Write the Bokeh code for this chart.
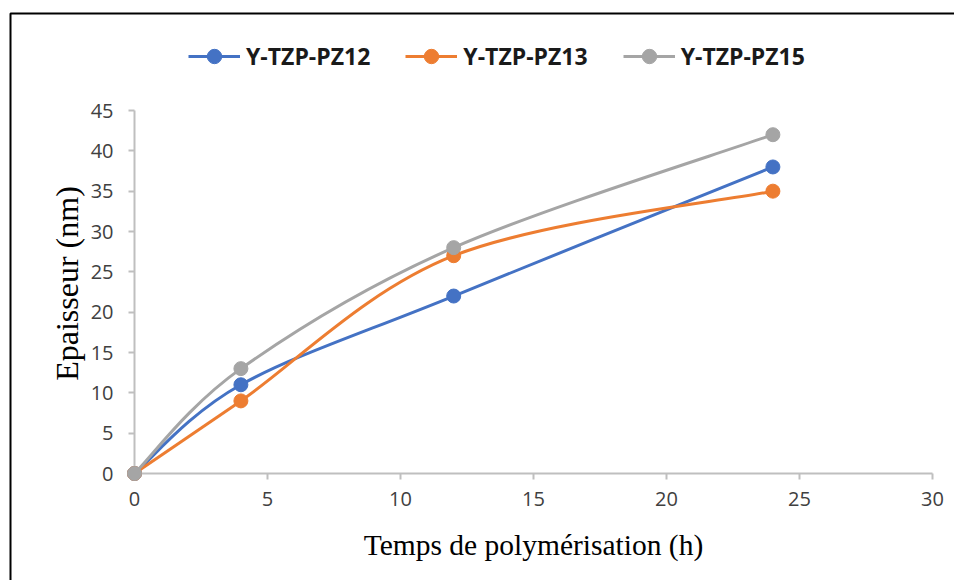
import math
from bokeh.plotting import figure
from bokeh.models import Range1d, FixedTicker, Legend, LegendItem
from bokeh.core.properties import value
from bokeh.embed import file_html
from bokeh.resources import INLINE

# ---- data ----
hours = [0, 4, 12, 24]
pz12 = [0, 11, 22, 38]
pz13 = [0, 9, 27, 35]
pz15 = [0, 13, 28, 42]
series_names = ["Y-TZP-PZ12", "Y-TZP-PZ13", "Y-TZP-PZ15"]
series_values = [pz12, pz13, pz15]
series_colors = ["#4472C4", "#ED7D31", "#A5A5A5"]
x_ticks = [0, 5, 10, 15, 20, 25, 30]
y_ticks = [0, 5, 10, 15, 20, 25, 30, 35, 40, 45]
x_title = "Temps de polymérisation (h)"
y_title = "Epaisseur (nm)"

# ---- layout constants (pixels) ----
W, H = 954, 580
FRAME_L, FRAME_R = 134, 932
FRAME_TOP, Y_ZERO, Y_45 = 28, 473, 110
X_MAX, Y_AX_MAX = 30, 45
px_x = (FRAME_R - FRAME_L) / X_MAX
px_y = (Y_ZERO - Y_45) / Y_AX_MAX
y_top = Y_AX_MAX + (Y_45 - FRAME_TOP) / px_y


def to_dx(px):
    return (px - FRAME_L) / px_x


def to_dy(py):
    return (Y_ZERO - py) / px_y


def smooth_segments(xs, ys):
    """Catmull-Rom style Bezier control points (Excel-like smoothing)."""
    n = len(xs)
    x0, y0, x1, y1, cx0, cy0, cx1, cy1 = [], [], [], [], [], [], [], []
    for i in range(n - 1):
        a = i - 1 if i > 0 else i
        d = i + 2 if i + 2 < n else i + 1
        x0.append(xs[i]); y0.append(ys[i])
        x1.append(xs[i + 1]); y1.append(ys[i + 1])
        cx0.append(xs[i] + (xs[i + 1] - xs[a]) / 6.0)
        cy0.append(ys[i] + (ys[i + 1] - ys[a]) / 6.0)
        cx1.append(xs[i + 1] - (xs[d] - xs[i]) / 6.0)
        cy1.append(ys[i + 1] - (ys[d] - ys[i]) / 6.0)
    return dict(x0=x0, y0=y0, x1=x1, y1=y1, cx0=cx0, cy0=cy0, cx1=cx1, cy1=cy1)


p = figure(
    width=W, height=H,
    x_range=Range1d(0, X_MAX), y_range=Range1d(0, y_top),
    output_backend="svg", toolbar_location=None,
    min_border_left=FRAME_L, min_border_right=W - FRAME_R,
    min_border_top=FRAME_TOP, min_border_bottom=H - Y_ZERO,
)
p.outline_line_color = None
p.grid.visible = False
p.background_fill_color = "white"
p.border_fill_color = "white"

# chart frame (black border, top and left, like the cropped original)
fr = p.line([to_dx(10), to_dx(10), to_dx(W)], [to_dy(H), to_dy(13), to_dy(13)],
            line_color="black", line_width=2)
fr.level = "overlay"

items = []
for name, vals, col in zip(series_names, series_values, series_colors):
    seg = smooth_segments(hours, vals)
    br = p.bezier(x0=seg["x0"], y0=seg["y0"], x1=seg["x1"], y1=seg["y1"],
                  cx0=seg["cx0"], cy0=seg["cy0"], cx1=seg["cx1"], cy1=seg["cy1"],
                  line_color=col, line_width=3)
    br.level = "overlay"
    sr = p.scatter(hours, vals, size=14, fill_color=col, line_color=col)
    sr.level = "overlay"
    items.append(LegendItem(label=name, renderers=[br, sr]))

legend = Legend(items=items, orientation="horizontal", location=(54, Y_ZERO - 74),
                glyph_width=52, glyph_height=36, label_standoff=6, spacing=35,
                label_text_font="Open Sans", label_text_font_style="bold",
                label_text_font_size="23px", label_text_color="#1a1a1a",
                border_line_color=None, background_fill_alpha=0, padding=0, margin=0)
p.add_layout(legend)

for ax in (p.xaxis[0], p.yaxis[0]):
    ax.axis_line_color = "#BFBFBF"
    ax.axis_line_width = 2
    ax.major_tick_line_color = "#BFBFBF"
    ax.major_tick_line_width = 2
    ax.major_tick_in = 0
    ax.major_tick_out = 6
    ax.minor_tick_line_color = None
    ax.major_label_text_font = "Open Sans"
    ax.major_label_text_font_size = "20px"
    ax.major_label_text_color = "#404040"
    ax.axis_label_text_font = "Liberation Serif"
    ax.axis_label_text_font_style = "normal"
    ax.axis_label_text_color = "#000000"

p.xaxis.ticker = FixedTicker(ticks=x_ticks)
p.yaxis.ticker = FixedTicker(ticks=y_ticks)
p.yaxis.bounds = (0, Y_AX_MAX)
p.xaxis.axis_label = x_title
p.xaxis.axis_label_text_font_size = "29.5px"
p.xaxis.major_label_standoff = 12
p.yaxis.major_label_standoff = 15
p.xaxis.axis_label_standoff = 20

# y-axis title, placed beside the axis as in the original
yt = p.text(x=[to_dx(66)], y=[to_dy(283)], text=[y_title],
            angle=math.pi / 2, text_align="center", text_baseline="middle",
            text_font=value("Liberation Serif"), text_font_size="32px",
            text_color="#000000")
yt.level = "overlay"

open("out.html", "w").write(file_html(p, INLINE))
